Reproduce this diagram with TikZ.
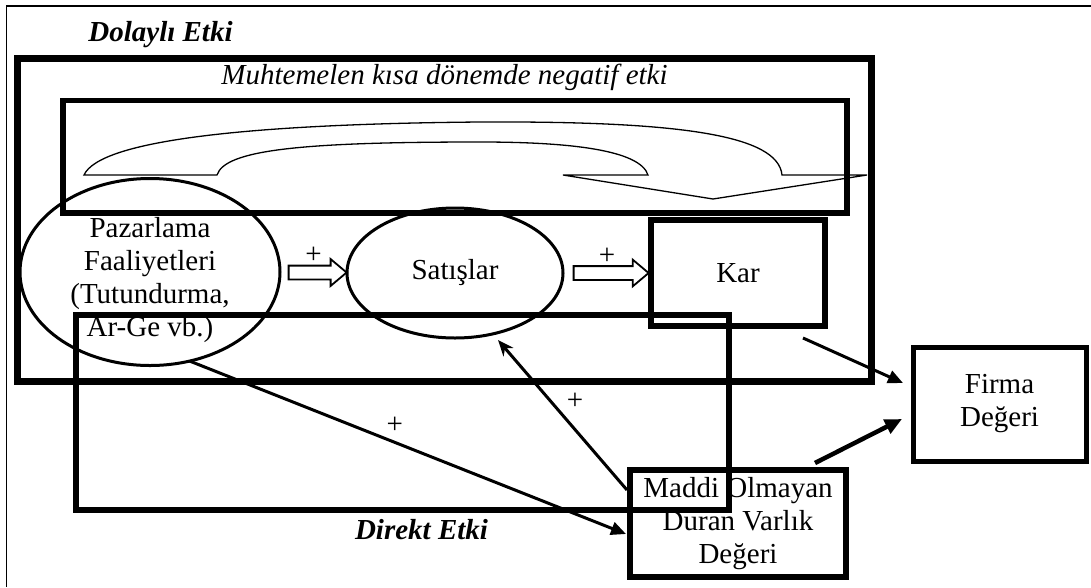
\documentclass[tikz,border=0pt]{standalone}
\usepackage{fontspec}
\setmainfont{Liberation Serif}
\usepackage{tikz}
\usetikzlibrary{arrows.meta,calc,positioning,shapes.geometric,shapes.arrows}
\newcommand{\fs}{\fontsize{29}{33}\selectfont}

\begin{document}
\begin{tikzpicture}[x=1pt,y=-1pt,
  every node/.style={font=\fs,inner sep=0pt,outer sep=0pt},
  bx/.style={draw,line width=#1},bx/.default=5.5pt,
  ov/.style={draw,ellipse,line width=3pt},
  hollow/.style={draw,single arrow,line width=1.8pt,inner sep=6pt,minimum width=25pt,
                 single arrow head extend=6.5pt,single arrow tip angle=80,minimum height=#1},
  conn/.style={line width=#1,-{Triangle[length=15pt,width=13pt]}},conn/.default=3pt]
  \useasboundingbox (0,0) rectangle (1091,587);
  \draw[line width=1.5pt] (1091,6) -- (6.5,6) -- (6.5,587);
  \draw[line width=7pt] (17,58) rectangle (871,381);
  \draw[line width=5.5pt] (63,100.5) rectangle (847,213);
  \draw[line width=6pt] (76,315) rectangle (729,510);
  \draw[line width=1.3pt] (84,175) .. controls (100,140) and (250,124) .. (480,122)
    .. controls (680,121) and (778,135) .. (782,175) -- (867,175) -- (713,199) -- (563,175)
    -- (648,175) .. controls (640,150) and (570,142) .. (480,142)
    .. controls (300,142) and (225,150) .. (217,175) -- cycle;
  \node[font=\fs\bfseries\itshape] (dolayli) at (160.5,35) {Dolaylı Etki};
  \node[font=\fs\itshape] (kisa) at (444.5,77) {Muhtemelen kısa dönemde negatif etki};
  \node[font=\fs\bfseries\itshape] (direkt) at (421.5,530) {Direkt Etki};
  \node[ov,minimum width=260pt,minimum height=187pt] (pazar) at (150,272) {};
  \node[align=center] (pazarlbl) at (150,280) {Pazarlama\\Faaliyetleri\\(Tutundurma,\\Ar-Ge vb.)};
  \node[ov,minimum width=216pt,minimum height=130pt] (satis) at (455,273) {Satışlar};
  \node[bx,minimum width=174pt,minimum height=106pt] (kar) at (738,273) {Kar};
  \node[bx=6pt,minimum width=216pt,minimum height=107pt,align=center] (maddi) at (738,523.5)
    {Maddi Olmayan\\Duran Varlık\\Değeri};
  \node[bx=5pt,minimum width=173pt,minimum height=114pt,align=center] (firma) at (999.5,404)
    {Firma\\Değeri};
  \node[hollow=58pt,label={[label distance=2pt]above:+}] (h1) at ($(pazar.east)!0.5!(satis.west)$) {};
  \node[hollow=75pt,label={[label distance=2pt]above:+}] (h2) at ($(satis.east)!0.5!(kar.west)$) {};
  \draw[conn] ([xshift=-22pt,yshift=-12pt]kar.south east) -- ([xshift=-10pt,yshift=21pt]firma.west);
  \draw[line width=4.5pt,-{Triangle[length=17pt,width=15pt]}]
    ([xshift=-31pt,yshift=7pt]maddi.north east) -- ([xshift=-11pt,yshift=-15pt]firma.west);
  \draw[line width=3pt,-{Stealth[length=16pt,width=13pt]}]
    ([xshift=-3pt,yshift=-20pt]maddi.north west) -- node[pos=0.59,right=16pt] (p3) {+}
    ([xshift=43pt,yshift=-2pt]satis.south);
  \draw[conn] (pazar.-66) -- node[pos=0.47,above=9pt] (p4) {+}
    ([xshift=-4pt,yshift=-10.5pt]maddi.west);
\end{tikzpicture}
\end{document}
